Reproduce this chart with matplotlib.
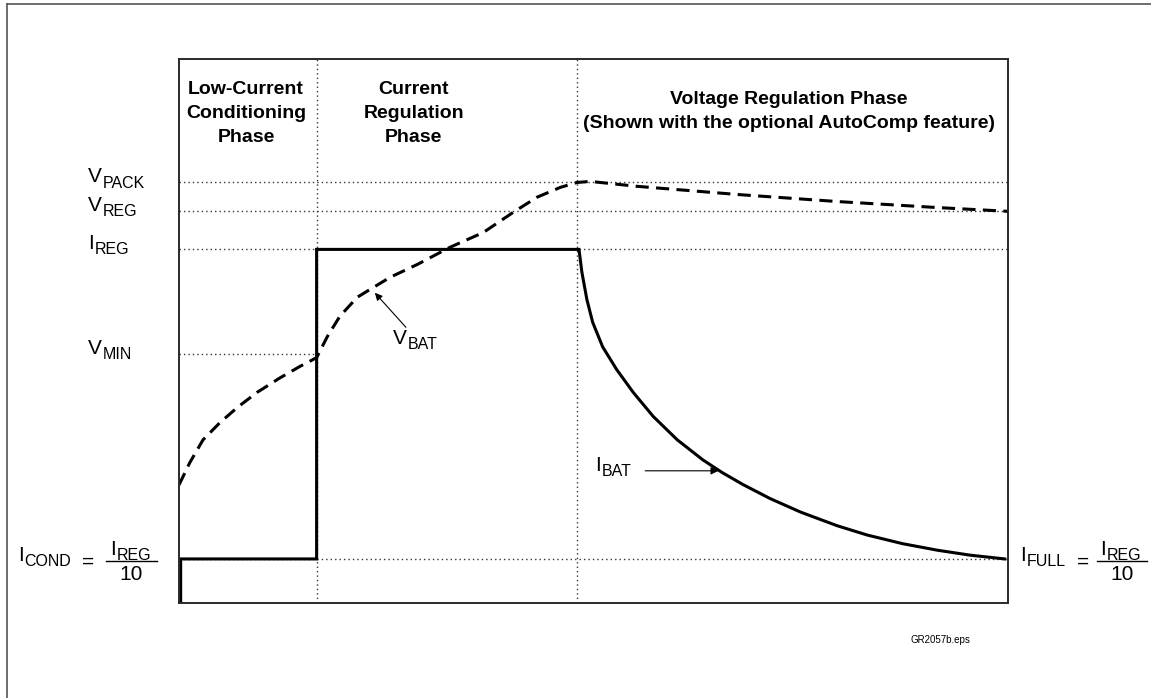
import numpy as np
import matplotlib
matplotlib.use('Agg')
import matplotlib.pyplot as plt
from matplotlib.lines import Line2D
from matplotlib.transforms import offset_copy

plt.rcParams['font.family'] = ['Liberation Sans', 'DejaVu Sans']

# time axis in % of the charge cycle, levels in % of the plot height
phase_bounds = [16.6, 48.0]
phase_titles = ['Low-Current\nConditioning\nPhase',
                'Current\nRegulation\nPhase',
                'Voltage Regulation Phase\n(Shown with the optional AutoComp feature)']
phase_title_x = [8.1, 28.3, 73.6]
phase_title_y = [96.0, 96.0, 94.2]

level_letters = ['V', 'V', 'I', 'V']
level_names = ['PACK', 'REG', 'REG', 'MIN']
level_values = [77.3, 72.0, 65.0, 45.7]
i_cond = 8.1

# battery voltage (dashed)
vbat_t = [0.0, 1.3, 2.9, 4.9, 7.0, 9.4, 12.2, 14.6, 16.6, 17.9, 19.4, 21.5,
          23.0, 25.5, 28.7, 32.7, 36.7, 40.3, 43.2, 46.0, 48.0, 49.6, 55.2,
          67.3, 79.4, 91.4, 100.0]
vbat_v = [21.7, 25.8, 30.0, 33.1, 35.9, 38.7, 41.4, 43.5, 45.1, 49.0, 52.7, 56.2,
          57.6, 59.9, 62.2, 65.4, 68.1, 71.8, 74.6, 76.4, 77.3, 77.5, 76.6,
          75.1, 73.8, 72.7, 72.0]

# battery current (solid)
ibat_t = [0.2, 0.2, 16.6, 16.6, 48.1, 48.25, 48.6, 49.2, 49.9, 51.1, 52.8, 54.8,
          57.2, 60.1, 63.2, 65.5, 68.0, 71.3, 75.0, 79.4, 83.0, 87.3, 91.5,
          95.4, 99.6]
ibat_i = [0.0, 8.1, 8.1, 65.0, 65.0, 65.0, 60.8, 55.8, 51.6, 47.1, 42.9, 38.7,
          34.3, 30.0, 26.3, 24.0, 21.8, 19.2, 16.7, 14.2, 12.5, 10.9, 9.7,
          8.8, 8.1]

W, H = 1151, 698
fig = plt.figure(figsize=(W / 100, H / 100), dpi=100)
ax = fig.add_axes([179 / W, 95 / H, 829 / W, 544 / H])
ax.set_xlim(0, 100)
ax.set_ylim(0, 100)
ax.set_xticks([])
ax.set_yticks([])
for sp in ax.spines.values():
    sp.set_color('#2a2a2a')
    sp.set_linewidth(1.4)

dot = dict(color='#333333', lw=1.0, ls=(0, (1, 2.2)))
ax.axhline(level_values[0], **dot)
ax.axhline(level_values[1], **dot)
ax.axhline(level_values[2], **dot)
ax.axhline(i_cond, **dot)
ax.plot([0, phase_bounds[0]], [level_values[3]] * 2, **dot)
for b in phase_bounds:
    ax.axvline(b, **dot)

ax.plot(vbat_t, vbat_v, color='black', lw=2.2, ls=(0, (4.3, 2.4)))
ax.plot(ibat_t, ibat_i, color='black', lw=2.2, solid_joinstyle='miter')

for x, y, t in zip(phase_title_x, phase_title_y, phase_titles):
    ax.text(x, y, t, ha='center', va='top', fontsize=14,
            fontweight='bold', linespacing=1.55)

ylab = ax.get_yaxis_transform()


def shifted(tr, dy):
    return offset_copy(tr, fig=fig, x=0, y=dy, units='dots')


def sub_label(x, y, letter, sub, tr, dy=0):
    t = ax.text(x, y, letter, transform=shifted(tr, dy), ha='left',
                va='baseline', fontsize=15)
    ax.annotate(sub, xy=(1, 0), xycoords=t, xytext=(0.4, -2.9),
                textcoords='offset points', ha='left', va='bottom', fontsize=11.5)
    return t


def ax_x(px):
    return (px - 179) / 829


for letter, name, v in zip(level_letters, level_names, level_values):
    sub_label(ax_x(88), v, letter, name, ylab)

# I_COND = I_REG / 10   and   I_FULL = I_REG / 10
for name, left, eq_px, num_px, bar in [('COND', 18, 82, 110, (106, 157)),
                                       ('FULL', 1020, 1077, 1100, (1097, 1147))]:
    sub_label(ax_x(left), i_cond, 'I', name, ylab, dy=-2)
    ax.text(ax_x(eq_px), i_cond, '=', transform=shifted(ylab, -8.5),
            ha='left', va='baseline', fontsize=15)
    sub_label(ax_x(num_px), i_cond, 'I', 'REG', ylab, dy=4)
    ax.plot([ax_x(bar[0]), ax_x(bar[1])], [i_cond, i_cond],
            transform=shifted(ylab, -2), color='black', lw=1.0, clip_on=False)
    ax.text(ax_x((bar[0] + bar[1]) / 2), i_cond, '10', transform=shifted(ylab, -21),
            ha='center', va='baseline', fontsize=15)

# curve labels with arrows
sub_label(25.8, 47.7, 'V', 'BAT', ax.transData)
ax.annotate('', xy=(23.4, 57.4), xytext=(27.6, 50.3),
            arrowprops=dict(arrowstyle='-|>', color='black', lw=0.8, mutation_scale=11))
sub_label(50.2, 24.3, 'I', 'BAT', ax.transData)
ax.annotate('', xy=(65.4, 24.3), xytext=(55.9, 24.3),
            arrowprops=dict(arrowstyle='-|>', color='black', lw=0.8, mutation_scale=11))

fig.text(940 / W, 1 - 640 / H, 'GR2057b.eps', ha='center', va='center', fontsize=7)

# outer frame
fig.add_artist(Line2D([7 / W, 7 / W], [0, 1 - 4 / H], transform=fig.transFigure,
                      color='#555555', lw=1.2))
fig.add_artist(Line2D([7 / W, 1], [1 - 4 / H, 1 - 4 / H], transform=fig.transFigure,
                      color='#555555', lw=1.2))

fig.savefig('out.png', dpi=100)
